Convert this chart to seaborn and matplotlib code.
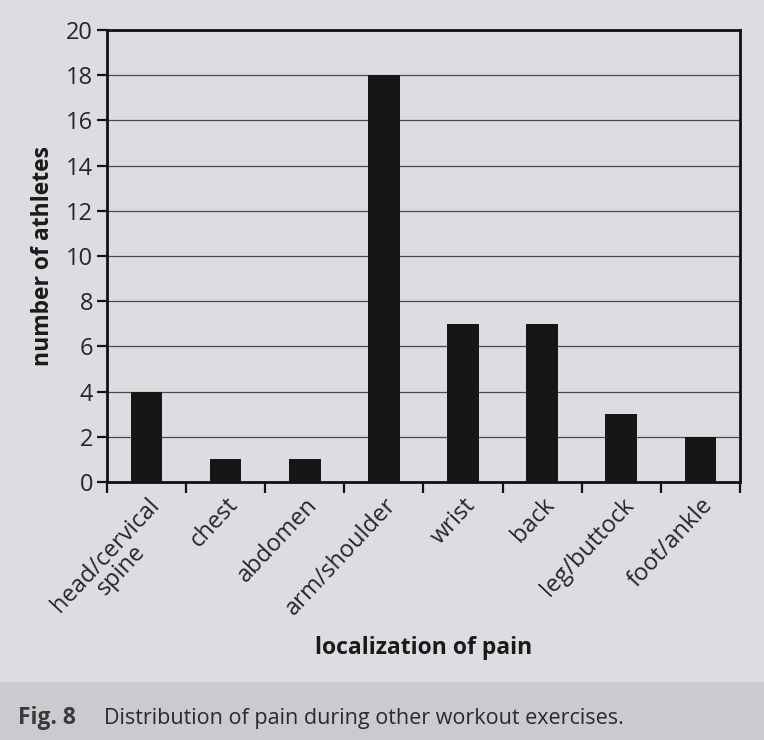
import matplotlib
matplotlib.use("Agg")
import matplotlib.pyplot as plt
import seaborn as sns
import pandas as pd
from matplotlib.patches import Rectangle

categories = ["head/cervical\nspine", "chest", "abdomen", "arm/shoulder",
              "wrist", "back", "leg/buttock", "foot/ankle"]
values = [4, 1, 1, 18, 7, 7, 3, 2]
y_ticks = [0, 2, 4, 6, 8, 10, 12, 14, 16, 18, 20]

sns.set_theme(style="white")
plt.rcParams['font.family'] = ['Open Sans', 'DejaVu Sans']

bg = "#dddce1"
fig = plt.figure(figsize=(7.64, 7.40), dpi=100, facecolor=bg)
fig.patches.append(Rectangle((0, 0), 1, 0.078, transform=fig.transFigure,
                             facecolor="#cacacf", edgecolor="none", zorder=0))
ax = fig.add_axes([0.140, 0.3486, 0.8285, 0.611])
ax.set_facecolor(bg)

df = pd.DataFrame({"loc": categories, "n": values})
sns.barplot(data=df, x="loc", y="n", color="#161616", width=0.4,
            saturation=1, ax=ax, zorder=3, linewidth=0, edgecolor="none")

ax.set_ylim(0, 20)
ax.set_xlim(-0.5, len(categories) - 0.5)
ax.set_yticks(y_ticks)
ax.set_yticklabels([str(t) for t in y_ticks], fontsize=17, color="#262626")
ax.yaxis.grid(True, color="#4a4a4a", linewidth=0.9)
ax.set_axisbelow(True)

# boundary ticks on x axis
ax.set_xticks([i + 0.5 for i in range(-1, len(categories))])
ax.set_xticklabels([])
ax.set_xticks(range(len(categories)), minor=True)
ax.set_xticklabels(categories, minor=True, rotation=47, ha="right",
                   va="top", rotation_mode="anchor", fontsize=17,
                   color="#262626", linespacing=0.92,
                   multialignment="center")
ax.tick_params(axis="x", which="major", direction="out", length=8,
               width=1.6, color="#111111", bottom=True)
ax.tick_params(axis="x", which="minor", length=0, pad=8)
ax.tick_params(axis="y", direction="out", length=7, width=1.6,
               color="#111111", left=True, pad=3)

for s in ax.spines.values():
    s.set_visible(True)
    s.set_color("#111111")
    s.set_linewidth(2.0)

ax.set_xlabel("localization of pain", fontsize=16.5, fontweight="bold",
              color="#1a1a1a", labelpad=3)
ax.set_ylabel("number of athletes", fontsize=16.5, fontweight="bold",
              color="#1a1a1a", labelpad=8)

fig.text(0.024, 0.022, "Fig. 8", fontsize=16.5, fontweight="bold",
         color="#3a3a3a")
fig.text(0.136, 0.022, "Distribution of pain during other workout exercises.",
         fontsize=15.5, color="#2a2a2a")

fig.savefig("out.png", dpi=100, facecolor=bg)
